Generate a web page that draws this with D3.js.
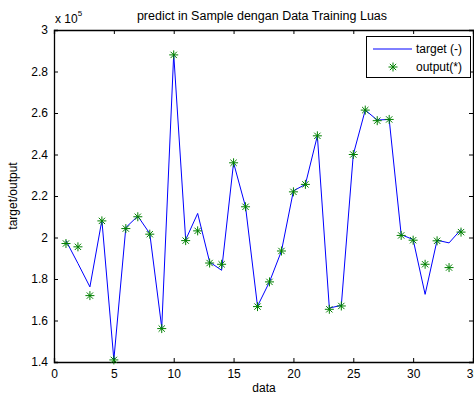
<!DOCTYPE html>
<html lang="en">
<head>
    <meta charset="UTF-8">
    <title>predict in Sample dengan Data Training Luas</title>
    <style>
        body {
            margin: 0;
            padding: 0;
            background-color: #ffffff;
            font-family: 'Liberation Sans', Arial, sans-serif;
            overflow: hidden;
        }
        .chart text {
            font-size: 12px;
            fill: #000000;
        }
    </style>
</head>
<body>
    <div class="chart"></div>

    <script src="https://d3js.org/d3.v7.min.js"></script>
    <script>
        const width = 474;
        const height = 394;

        // data (index 1..34)
        const dataIndex = d3.range(1, 35);
        const targetValues = [
            198500, 187500, 176200, 208300, 141100, 204800, 210300, 201900, 156600, 288400,
            198900, 211600, 188200, 184200, 236000, 214800, 166900, 178600, 193500, 222500,
            225600, 249000, 166000, 167300, 240000, 261400, 256600, 256900, 201400, 199000,
            172600, 198700, 197400, 203900
        ];
        const outputValues = [
            197100, 195500, 172000, 208000, 141000, 204300, 210000, 201600, 156100, 288000,
            198500, 203200, 187700, 187100, 236000, 214800, 166700, 178600, 193500, 222000,
            225600, 249000, 165400, 167000, 240000, 261400, 256300, 256900, 201000, 198700,
            187100, 198400, 185500, 202600
        ];
        const xTicks = [0, 5, 10, 15, 20, 25, 30, 35];
        const yTicks = [140000, 160000, 180000, 200000, 220000, 240000, 260000, 280000, 300000];

        const margin = { left: 54, right: 1, top: 30, bottom: 32 };

        const svg = d3.select('.chart')
            .append('svg')
            .attr('width', width)
            .attr('height', height);

        const x = d3.scaleLinear().domain([0, 35]).range([margin.left, width - margin.right]);
        const y = d3.scaleLinear().domain([140000, 300000]).range([height - margin.bottom, margin.top]);

        const fmt = v => {
            const s = (v / 1e5).toFixed(1);
            return s.endsWith('.0') ? s.slice(0, -2) : s;
        };

        // axes (MATLAB style: inward ticks on all four sides)
        const axisBottom = d3.axisBottom(x).tickValues(xTicks).tickSize(-4).tickPadding(7);
        const axisTop = d3.axisTop(x).tickValues(xTicks).tickSize(-4).tickFormat('');
        const axisLeft = d3.axisLeft(y).tickValues(yTicks).tickSize(-4).tickPadding(6).tickFormat(fmt);
        const axisRight = d3.axisRight(y).tickValues(yTicks).tickSize(-4).tickFormat('');

        const gB = svg.append('g').attr('transform', `translate(0,${y.range()[0]})`).call(axisBottom);
        const gT = svg.append('g').attr('transform', `translate(0,${margin.top})`).call(axisTop);
        const gL = svg.append('g').attr('transform', `translate(${margin.left},0)`).call(axisLeft);
        const gR = svg.append('g').attr('transform', `translate(${width - margin.right},0)`).call(axisRight);

        [gB, gT, gL, gR].forEach(g => {
            g.selectAll('.domain').attr('stroke', '#000').attr('stroke-width', 1.3);
            g.selectAll('.tick line').attr('stroke', '#000');
            g.selectAll('text').attr('font-size', '12px').attr('fill', '#000')
                .attr('font-family', "'Liberation Sans', Arial, sans-serif");
        });

        // exponent label
        const expo = svg.append('text')
            .attr('x', margin.left + 1)
            .attr('y', 23);
        expo.append('tspan').text('x 10');
        expo.append('tspan').attr('dy', -7).attr('font-size', '8px').text('5');

        // title and axis labels
        svg.append('text')
            .attr('x', 262)
            .attr('y', 20)
            .attr('text-anchor', 'middle')
            .style('font-size', '12.5px')
            .text('predict in Sample dengan Data Training Luas');

        svg.append('text')
            .attr('x', 264)
            .attr('y', 392)
            .attr('text-anchor', 'middle')
            .text('data');

        svg.append('text')
            .attr('transform', `translate(17,${(margin.top + y.range()[0]) / 2}) rotate(-90)`)
            .attr('text-anchor', 'middle')
            .text('target/output');

        // target line
        const line = d3.line()
            .x((d, i) => x(dataIndex[i]))
            .y(d => y(d));

        svg.append('path')
            .datum(targetValues)
            .attr('fill', 'none')
            .attr('stroke', '#0000ff')
            .attr('stroke-width', 1)
            .attr('d', line);

        // asterisk marker
        const r = 4.5;
        const star = `M${-r},0L${r},0M0,${-r}L0,${r}` +
            `M${-r * 0.7},${-r * 0.7}L${r * 0.7},${r * 0.7}M${-r * 0.7},${r * 0.7}L${r * 0.7},${-r * 0.7}`;

        svg.append('g')
            .selectAll('path')
            .data(outputValues)
            .enter().append('path')
            .attr('transform', (d, i) => `translate(${x(dataIndex[i])},${y(d)})`)
            .attr('d', star)
            .attr('fill', 'none')
            .attr('stroke', '#008000')
            .attr('stroke-width', 1);

        // legend
        const lg = svg.append('g');
        lg.append('rect')
            .attr('x', 366.5).attr('y', 36.5)
            .attr('width', 104).attr('height', 41)
            .attr('fill', '#fff')
            .attr('stroke', '#000')
            .attr('stroke-width', 1);
        lg.append('line')
            .attr('x1', 373).attr('x2', 412)
            .attr('y1', 49).attr('y2', 49)
            .attr('stroke', '#0000ff');
        lg.append('text').attr('x', 416).attr('y', 53).text('target (-)');
        lg.append('path')
            .attr('transform', 'translate(393,67)')
            .attr('d', star)
            .attr('fill', 'none')
            .attr('stroke', '#008000');
        lg.append('text').attr('x', 416).attr('y', 71).text('output(*)');
    </script>
</body>
</html>
